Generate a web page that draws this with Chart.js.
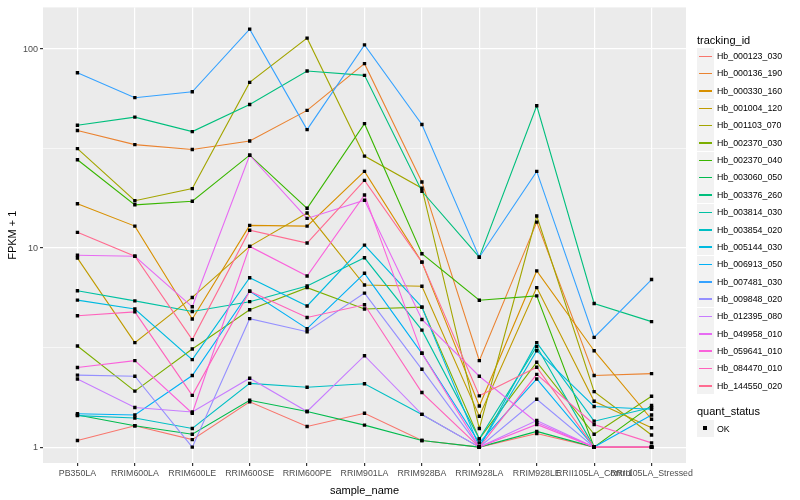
<!DOCTYPE html>
<html>
<head>
<meta charset="utf-8">
<title>FPKM by sample</title>
<script src="https://cdn.jsdelivr.net/npm/chart.js@4.4.1/dist/chart.umd.min.js"></script>
<style>
  body { margin: 0; background: #fff; font-family: "Liberation Sans", Arial, sans-serif; }
  #wrap { position: relative; width: 800px; height: 500px; }
  #chart { position: absolute; left: 0; top: 0; }
  .lg-title { position: absolute; left: 697px; font-size: 11px; color: #000; line-height: 12px; }
  .lg-key { position: absolute; left: 697px; width: 17px; height: 17px; background: #F2F2F2; }
  .lg-key i { position: absolute; left: 2px; right: 2px; top: 8px; height: 1.5px; }
  .lg-key b { position: absolute; left: 6px; top: 6px; width: 4px; height: 4px; background: #000; }
  .lg-text { position: absolute; left: 717px; font-size: 8.8px; color: #000; line-height: 10px; }
</style>
</head>
<body>
<div id="wrap">
  <canvas id="chart" width="800" height="500"></canvas>
  <div id="legend"></div>
</div>
<script>
// x categories
const sampleNames = ['PB350LA', 'RRIM600LA', 'RRIM600LE', 'RRIM600SE', 'RRIM600PE', 'RRIM901LA',
  'RRIM928BA', 'RRIM928LA', 'RRIM928LE', 'RRII105LA_Control', 'RRII105LA_Stressed'];

const trackingIds = ['Hb_000123_030', 'Hb_000136_190', 'Hb_000330_160', 'Hb_001004_120', 'Hb_001103_070',
  'Hb_002370_030', 'Hb_002370_040', 'Hb_003060_050', 'Hb_003376_260', 'Hb_003814_030',
  'Hb_003854_020', 'Hb_005144_030', 'Hb_006913_050', 'Hb_007481_030', 'Hb_009848_020',
  'Hb_012395_080', 'Hb_049958_010', 'Hb_059641_010', 'Hb_084470_010', 'Hb_144550_020'];

// ggplot default hue palette for 20 groups
const seriesColors = ['#F8766D', '#EA8331', '#D89000', '#C09B00', '#A3A500', '#7CAE00', '#39B600', '#00BB4E',
  '#00BF7D', '#00C1A3', '#00BFC4', '#00BAE0', '#00B0F6', '#35A2FF', '#9590FF', '#C77CFF',
  '#E76BF3', '#FA62DB', '#FF62BC', '#FF6C91'];

// FPKM + 1, one value per sample
const hb000123_030 = [1.08, 1.28, 1.09, 1.69, 1.27, 1.48, 1.08, 1.0, 1.17, 1.0, 1.0];
const hb000136_190 = [39, 33.1, 31.3, 34.5, 49.2, 84.5, 21.5, 2.72, 13.5, 2.29, 2.34];
const hb000330_160 = [16.7, 12.9, 4.4, 13.0, 12.9, 24.3, 8.5, 1.61, 7.68, 3.05, 1.38];
const hb001004_120 = [8.9, 3.35, 5.65, 10.2, 15.0, 6.52, 6.43, 1.43, 6.33, 1.7, 1.25];
const hb001103_070 = [31.6, 17.3, 19.9, 68, 113.5, 29, 20, 1.24, 14.5, 1.9, 1.15];
const hb002370_030 = [3.22, 1.91, 3.11, 4.9, 6.33, 4.94, 5.05, 1.1, 2.67, 1.16, 1.8];
const hb002370_040 = [27.8, 16.5, 17.2, 29.3, 15.85, 42.2, 9.37, 5.47, 5.75, 1.0, 1.62];
const hb003060_050 = [1.45, 1.28, 1.16, 1.72, 1.51, 1.29, 1.08, 1.0, 1.2, 1.0, 1.0];
const hb003376_260 = [41.4, 45.5, 38.5, 52.7, 77.6, 73.8, 19.3, 9.0, 51.9, 5.27, 4.27];
const hb003814_030 = [6.1, 5.43, 4.8, 5.38, 6.45, 8.94, 3.87, 1.1, 3.2, 1.0, 1.0];
const hb003854_020 = [1.44, 1.4, 1.24, 2.09, 2.0, 2.08, 1.46, 1.0, 3.35, 1.35, 1.58];
const hb005144_030 = [5.48, 4.94, 2.75, 7.1, 5.12, 10.35, 5.05, 1.0, 3.05, 1.6, 1.55];
const hb006913_050 = [1.47, 1.45, 2.29, 6.07, 3.94, 7.47, 2.96, 1.05, 2.2, 1.0, 1.45];
const hb007481_030 = [76, 57, 61, 126, 39.4, 105, 41.8, 9.0, 24.3, 3.56, 6.95];
const hb009848_020 = [2.3, 2.27, 1.0, 4.42, 3.8, 5.94, 2.46, 1.0, 1.74, 1.0, 1.0];
const hb012395_080 = [2.2, 1.58, 1.5, 2.22, 1.51, 2.88, 1.46, 1.0, 1.36, 1.0, 1.0];
const hb049958_010 = [9.2, 9.1, 5.07, 29.3, 14.1, 17.4, 4.38, 2.27, 1.33, 1.0, 1.0];
const hb059641_010 = [2.51, 2.72, 1.48, 10.2, 7.24, 18.5, 2.96, 1.0, 1.3, 1.0, 1.0];
const hb084470_010 = [4.57, 4.78, 1.82, 6.07, 4.48, 5.19, 1.88, 1.0, 2.32, 1.3, 1.05];
const hb144550_020 = [12.0, 9.1, 3.47, 12.3, 10.6, 21.9, 8.5, 1.81, 2.52, 1.0, 1.0];

const seriesValues = [hb000123_030, hb000136_190, hb000330_160, hb001004_120, hb001103_070,
  hb002370_030, hb002370_040, hb003060_050, hb003376_260, hb003814_030,
  hb003854_020, hb005144_030, hb006913_050, hb007481_030, hb009848_020,
  hb012395_080, hb049958_010, hb059641_010, hb084470_010, hb144550_020];

// y axis breaks (log10), labelled and minor
const yMajorTicks = [1, 10, 100];
const yMinorTicks = [3.162, 31.62];

const toPoints = vals => vals.map((v, i) => ({ x: i, y: v }));

const lineSets = seriesValues.map((vals, k) => ({
  label: trackingIds[k],
  data: toPoints(vals),
  borderColor: seriesColors[k],
  borderWidth: 1.1,
  pointRadius: 0,
  tension: 0,
  order: 100 - k
}));

const pointSet = {
  label: 'OK',
  data: seriesValues.flatMap(toPoints),
  showLine: false,
  pointStyle: 'rect',
  pointRadius: 2.4,
  backgroundColor: '#000',
  borderColor: '#000',
  borderWidth: 0,
  order: 0
};

const panelBg = {
  id: 'panelBg',
  beforeDraw(chart) {
    const a = chart.chartArea, ctx = chart.ctx;
    ctx.save();
    ctx.fillStyle = '#EBEBEB';
    ctx.fillRect(a.left, a.top, a.right - a.left, a.bottom - a.top);
    ctx.restore();
  }
};

Chart.defaults.font.family = '"Liberation Sans", Arial, sans-serif';

new Chart(document.getElementById('chart'), {
  type: 'line',
  data: { datasets: [pointSet, ...lineSets] },
  plugins: [panelBg],
  options: {
    responsive: false,
    animation: false,
    layout: { padding: { top: 5, right: 114, left: 0, bottom: 0 } },
    plugins: { legend: { display: false }, tooltip: { enabled: false } },
    scales: {
      x: {
        type: 'linear', min: -0.6, max: 10.6,
        afterBuildTicks: s => { s.ticks = sampleNames.map((n, i) => ({ value: i })); },
        afterFit: s => { s.height = 37; },
        ticks: { callback: v => sampleNames[v], autoSkip: false, maxRotation: 0, color: '#4D4D4D', font: { size: 8.8 }, padding: 2 },
        grid: { color: '#FFFFFF', lineWidth: 1.2, tickLength: 3, tickColor: '#333333' },
        border: { display: false },
        title: { display: true, text: 'sample_name', color: '#000', font: { size: 11 }, padding: { top: 0, bottom: 2 } }
      },
      y: {
        type: 'logarithmic', min: 0.832, max: 162,
        afterBuildTicks: s => {
          s.ticks = [...yMajorTicks, ...yMinorTicks].sort((a, b) => a - b).map(v => ({ value: v }));
        },
        afterFit: s => { s.width = 43; },
        ticks: { callback: v => yMajorTicks.includes(v) ? String(v) : '', autoSkip: false, color: '#4D4D4D', font: { size: 9 }, padding: 2 },
        grid: {
          color: '#FFFFFF',
          lineWidth: c => yMajorTicks.includes(c.tick.value) ? 1.2 : 0.6,
          tickLength: 3,
          tickColor: c => yMajorTicks.includes(c.tick.value) ? '#333333' : 'rgba(0,0,0,0)'
        },
        border: { display: false },
        title: { display: true, text: 'FPKM + 1', color: '#000', font: { size: 11 }, padding: { top: 6, bottom: 0 } }
      }
    }
  }
});

// ggplot style legends on the right
const lg = document.getElementById('legend');
let html = '<div class="lg-title" style="top:34px">tracking_id</div>';
trackingIds.forEach((id, k) => {
  const cy = 56 + k * 17.35;
  html += '<div class="lg-key" style="top:' + (cy - 8.5) + 'px"><i style="background:' + seriesColors[k] + '"></i></div>';
  html += '<div class="lg-text" style="top:' + (cy - 5) + 'px">' + id + '</div>';
});
html += '<div class="lg-title" style="top:405px">quant_status</div>';
html += '<div class="lg-key" style="top:420px"><b></b></div>';
html += '<div class="lg-text" style="top:424px">OK</div>';
lg.innerHTML = html;
</script>
</body>
</html>
